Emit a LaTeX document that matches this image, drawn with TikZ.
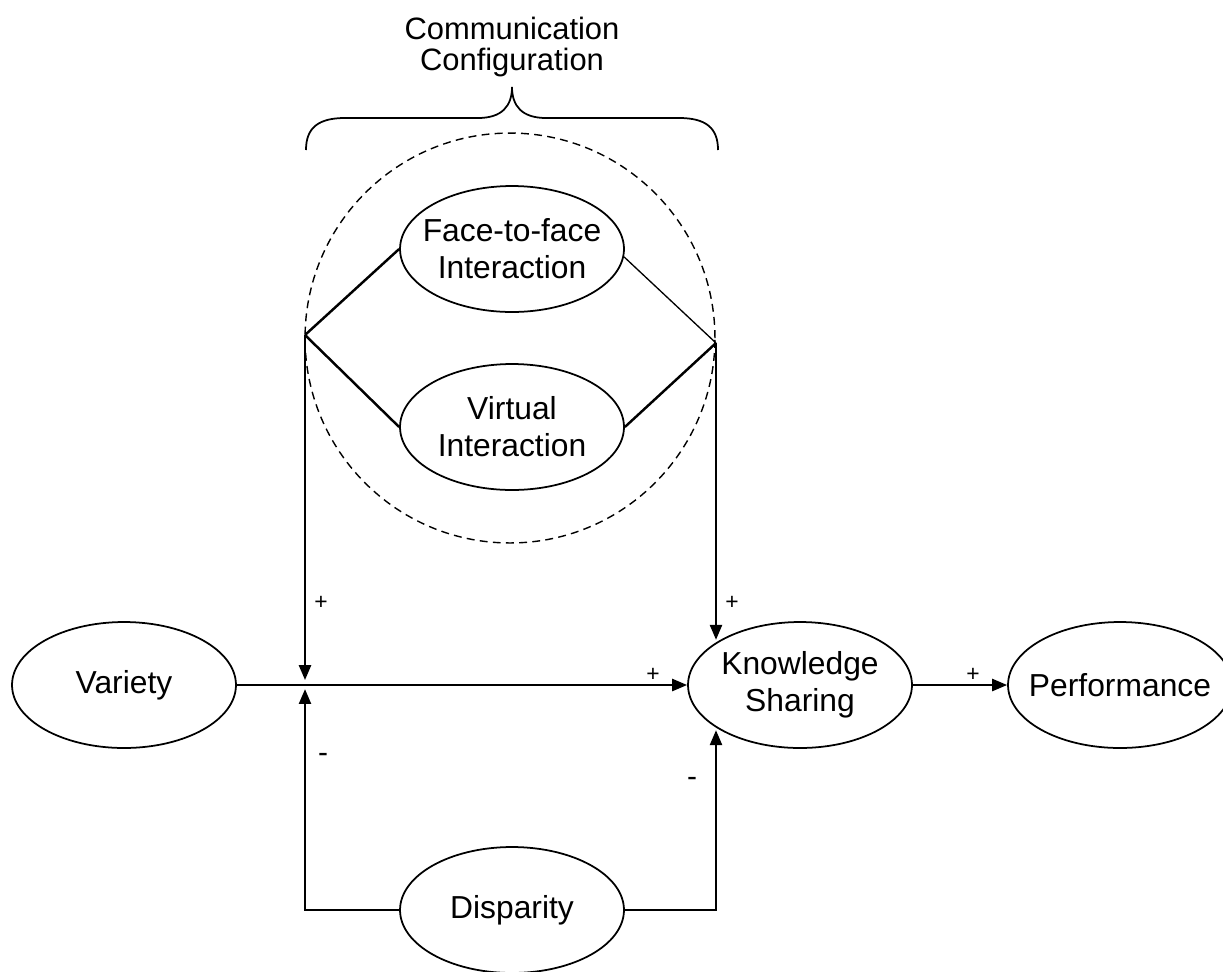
\documentclass[tikz,border=0pt]{standalone}
\usepackage{fontspec}
\setmainfont{Liberation Sans}
\usetikzlibrary{arrows.meta,shapes.geometric,calc}

\begin{document}
\begin{tikzpicture}[x=0.02cm, y=-0.02cm,
  ell/.style={ellipse, draw, line width=1pt, minimum width=4.48cm,
    minimum height=2.52cm, inner sep=0pt},
  lbl/.style={font=\fontsize{18.1}{21}\selectfont, align=center, inner sep=0pt},
  ttl/.style={font=\fontsize{17.6}{18.2}\selectfont, align=center, inner sep=0pt},
  sign/.style={font=\fontsize{13}{15}\selectfont, inner sep=0pt},
  minus/.style={font=\fontsize{17}{19}\selectfont, inner sep=0pt},
  link/.style={line width=1.4pt},
  thinlink/.style={line width=0.75pt},
  arr/.style={link, -{Triangle[length=8.5pt,width=6.8pt]}},
  group/.style={circle, draw, line width=0.8pt, dash pattern=on 4.5pt off 3pt,
    minimum size=8.2cm, inner sep=0pt},
  brace/.style={line width=1pt},
]
\useasboundingbox (0,0) rectangle (1223,971);

% grouping of the two interaction modes
\node[group] (grp) at (510,338) {};

% title over the brace
\node[ttl] (title) at (512,47) {Communication\\Configuration};
\draw[brace] (306,150) .. controls (306,128) and (318,118) .. (345,118) -- (478,118)
  .. controls (502,118) and (512,106) .. (512,87)
  .. controls (512,106) and (522,118) .. (546,118) -- (679,118)
  .. controls (706,118) and (718,128) .. (718,150);

% constructs
\node[ell] (ff) at (512,249) {};
\node[lbl] (ff-t) at (ff) {Face-to-face\\Interaction};
\node[ell] (vi) at (512,427) {};
\node[lbl] (vi-t) at (vi) {Virtual\\Interaction};
\node[ell] (var) at (124,685) {};
\node[lbl] (var-t) at (var) {Variety};
\node[ell] (ks) at (800,685) {};
\node[lbl] (ks-t) at (ks) {Knowledge\\Sharing};
\node[ell] (perf) at (1120,685) {};
\node[lbl] (perf-t) at (perf) {Performance};
\node[ell] (dis) at (512,910) {};
\node[lbl] (dis-t) at (dis) {Disparity};

% junction points
\coordinate (jl) at (305,335);
\coordinate (jr) at (716,343);
\coordinate (jv) at (305,685);
\coordinate (kt) at (jr |- ks.north west);
\coordinate (kb) at (jr |- ks.south west);

% moderator diamond
\draw[link] (jl) -- (ff.west);
\draw[link] (jl) -- (vi.west);
\draw[thinlink] (ff.-4) -- (jr);
\draw[link] (vi.east) -- (jr);

% paths
\draw[arr, shorten >=2.8pt] (jl) -- (jv);
\draw[arr, shorten >=2.3pt] (dis.west) -| (jv);
\draw[arr] (var.east) -- (ks.west);
\draw[arr] (ks.east) -- (perf.west);
\draw[arr] (jr) -- (kt);
\draw[arr] (dis.east) -| (kb);

% signs
\node[sign] (s1) at (321,603) {+};
\node[sign] (s2) at (732,603) {+};
\node[sign] (s3) at (653,675) {+};
\node[sign] (s4) at (973,675) {+};
\node[minus] (s5) at (323,758) {-};
\node[minus] (s6) at (692,782) {-};
\end{tikzpicture}
\end{document}
